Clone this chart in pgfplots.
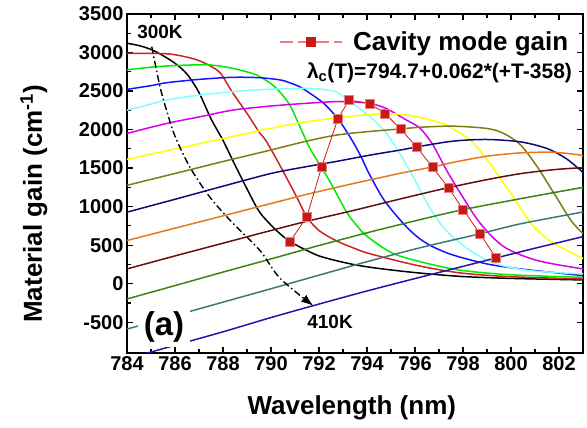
\documentclass[border=0pt]{standalone}
\usepackage{fontspec}
\setmainfont{Liberation Sans}
\usepackage{pgfplots}
\pgfplotsset{compat=1.18}
\usetikzlibrary{arrows.meta}
\definecolor{c1}{RGB}{0,0,0}
\definecolor{c2}{RGB}{205,35,35}
\definecolor{c3}{RGB}{0,235,0}
\definecolor{c4}{RGB}{20,20,255}
\definecolor{c5}{RGB}{128,255,255}
\definecolor{c6}{RGB}{215,0,235}
\definecolor{c7}{RGB}{255,255,0}
\definecolor{c8}{RGB}{125,125,20}
\definecolor{c9}{RGB}{15,10,125}
\definecolor{c10}{RGB}{230,120,30}
\definecolor{c11}{RGB}{100,15,15}
\definecolor{c12}{RGB}{60,130,20}
\definecolor{c13}{RGB}{60,120,120}
\definecolor{c14}{RGB}{35,20,170}
\definecolor{cred}{RGB}{200,25,25}
\definecolor{lred}{RGB}{235,125,125}
\newcommand{\fs}[1]{\fontsize{#1bp}{#1bp}\selectfont\bfseries}
\begin{document}
\begin{tikzpicture}
\begin{axis}[
 width=456bp, height=339bp, scale only axis,
 xmin=784, xmax=803, ymin=-900, ymax=3500,
 xtick={784,786,...,802}, ytick={-500,0,...,3500},
 minor x tick num=1, minor y tick num=1,
 tick align=inside, xtick pos=both, ytick pos=both,
 xticklabel pos=lower, yticklabel pos=left,
 major tick length=6bp, minor tick length=4bp,
 every tick/.style={black, line width=1.2bp},
 axis line style={line width=1.6bp},
 ticklabel style={font=\fs{20}},
 /pgf/number format/assume math mode=true,
 /pgf/number format/1000 sep={},
 xlabel={Wavelength (nm)},
 ylabel={Material gain (cm\textsuperscript{-1})},
 every axis x label/.style={at={(axis description cs:0.493,-0.162)}, anchor=center, font=\fs{26}},
 every axis y label/.style={at={(axis description cs:-0.204,0.44)}, anchor=center, rotate=90, font=\fs{26}},
 legend style={at={(axis cs:790.35,3138)}, anchor=west, draw=none, fill=none, inner sep=0pt, outer sep=0pt, font=\fs{26}, nodes={inner sep=3.5bp}},
 legend cell align=left,
 every axis plot/.append style={line width=1.5bp, smooth},
]
\coordinate (BL) at (rel axis cs:0,0);
\coordinate (TR) at (rel axis cs:1,1);
\addplot[c1, forget plot] coordinates {(784,3120) (784.5,3090) (785,3040) (785.5,2960) (786,2860) (786.5,2720) (787,2480) (787.5,2140) (788,1860) (788.5,1540) (789,1230) (789.5,940) (790,760) (790.5,615) (791,510) (791.5,430) (792,360) (792.7,300) (793.5,245) (794.3,205) (795.5,160) (796.6,126) (798,92) (800,68) (803,48)};
\addplot[c2, forget plot] coordinates {(784,2990) (785,2989) (785.8,2980) (786.5,2940) (787,2895) (787.5,2820) (787.9,2730) (788.4,2480) (789,2210) (789.5,1970) (789.8,1850) (790.4,1520) (791.07,1124) (791.5,863) (792,690) (792.7,560) (793.5,455) (794.1,390) (795.5,278) (796.6,204) (798,135) (800,90) (803,61)};
\addplot[c3, forget plot] coordinates {(784,2775) (785,2810) (785.8,2828) (786.9,2840) (787.5,2838) (788.4,2795) (789.4,2708) (790.1,2570) (790.5,2440) (790.8,2310) (791.1,2110) (791.6,1770) (792.1,1510) (792.5,1300) (793.15,930) (793.6,745) (794,615) (795.1,390) (796.6,256) (798,170) (800,115) (803,82)};
\addplot[c4, forget plot] coordinates {(784,2522) (785,2570) (785.65,2608) (787.04,2652) (788.4,2678) (789.54,2673) (790.4,2643) (790.8,2605) (791.2,2555) (791.6,2475) (792.2,2340) (792.8,2135) (793.3,1900) (793.7,1680) (794.1,1420) (794.7,1090) (795.4,820) (795.9,660) (796.3,560) (796.8,470) (797.6,370) (799,256) (800.4,191) (803,104)};
\addplot[c5, forget plot] coordinates {(784,2252) (785,2330) (785.65,2383) (787.04,2448) (788.4,2491) (789.8,2522) (791.2,2535) (792,2528) (792.7,2490) (793.2,2390) (793.7,2270) (794.1,2175) (794.7,1990) (795.15,1800) (795.85,1430) (796.6,993) (797.3,690) (798.3,430) (799.4,256) (800.8,169) (803,126)};
\addplot[c6, forget plot] coordinates {(784,1950) (785.65,2079) (787.04,2166) (788.4,2252) (789.8,2300) (791.2,2335) (792.5,2360) (793.2,2362) (794.1,2340) (794.8,2274) (795.65,2122) (796.2,2020) (796.75,1800) (797.3,1480) (797.9,1170) (798.7,790) (799.7,480) (801.1,300) (803,191)};
\addplot[c7, forget plot] coordinates {(784,1614) (786,1748) (788,1882) (790,2016) (791.35,2095) (792.7,2150) (793.7,2185) (794.75,2205) (795.5,2195) (796.2,2160) (796.8,2110) (797.3,2060) (798.3,1862) (799,1610) (799.5,1390) (800.1,1124) (800.65,860) (801.1,690) (801.8,517) (802.9,343) (803,330)};
\addplot[c8, forget plot] coordinates {(784,1276) (786,1430) (788,1585) (789.96,1732) (791.35,1840) (792.7,1927) (794.1,1975) (795.4,2008) (796.2,2030) (797.6,2044) (799,2014) (799.7,1949) (800.4,1800) (801.1,1514) (801.8,1168) (802.5,820) (803,650)};
\addplot[c9, forget plot] coordinates {(784,928) (786,1095) (788,1265) (790,1430) (791.5,1520) (792.7,1585) (794.1,1667) (795.5,1740) (796.07,1775) (797.6,1850) (799,1871) (800.4,1840) (801.5,1754) (802.3,1623) (802.9,1471) (803,1440)};
\addplot[c10, forget plot] coordinates {(784,560) (786,720) (788,880) (790,1040) (791.5,1160) (793.3,1290) (794.1,1345) (795.5,1440) (796.72,1514) (797.6,1575) (799,1654) (800.4,1697) (801.8,1705) (803,1665)};
\addplot[c11, forget plot] coordinates {(784,191) (786,360) (788,525) (790,690) (791.5,810) (793.3,940) (795,1070) (796.2,1160) (797.39,1246) (799,1350) (800.4,1428) (801.8,1480) (803,1506)};
\addplot[c12, forget plot] coordinates {(784,-199) (786,-25) (788,150) (790,321) (792,495) (794,660) (796.2,830) (798,960) (800.4,1103) (803,1250)};
\addplot[c13, forget plot] coordinates {(784,-590) (786,-415) (788,-240) (790,-66) (792,110) (794,285) (796.2,465) (798.7,647) (800.4,777) (803,930)};
\addplot[c14, forget plot] coordinates {(784,-975) (786,-800) (788,-625) (790,-440) (792,-265) (794,-95) (796.2,82) (799.4,335) (801,460) (803,610)};
\addplot[black, forget plot, line width=1.4bp, dash pattern=on 7bp off 3bp on 1.5bp off 3bp, -{Latex[length=12bp,width=9bp]}] coordinates {(785.03,3077) (785.375,2556) (785.67,2226) (786,1914) (786.625,1510) (787.46,1120) (788.42,781) (789.54,430) (790.375,70) (791.76,-286)};
\addplot[cred, line width=0.8bp, sharp plot, mark=square*, mark size=4.5bp, mark options={fill=cred, draw=lred, line width=0.5bp},
 legend image code/.code={
  \draw[lred, line width=1.5bp, dash pattern=on 13bp off 5bp] (0bp,0bp) -- (62bp,0bp);
  \fill[cred] (26.5bp,-4.5bp) rectangle (35.5bp,4.5bp);
  \path (69bp,0bp);
 }] coordinates {(790.79,547) (791.49,863) (792.11,1514) (792.78,2135) (793.25,2383) (794.1,2340) (794.75,2209) (795.4,2005) (796.07,1775) (796.72,1514) (797.39,1246) (798.01,960) (798.71,647) (799.375,335)};
\addlegendentry{Cavity mode gain}
\node[font=\fs{19}] at (axis cs:785.375,3261) {300K};
\node[font=\fs{19}] at (axis cs:792.46,-501) {410K};
\node[font=\fs{33}, fill=white, inner xsep=6bp, inner ysep=4bp] at (axis cs:785.54,-566) {(a)};
\node[font=\fs{21}] at (axis cs:797.02,2734) {λ\textsubscript{c}(T)=794.7+0.062*(+T-358)};
\end{axis}
\pgfresetboundingbox
\path[use as bounding box] ([shift={(-127bp,-75bp)}]BL) rectangle ([shift={(4bp,14bp)}]TR);
\end{tikzpicture}
\end{document}
